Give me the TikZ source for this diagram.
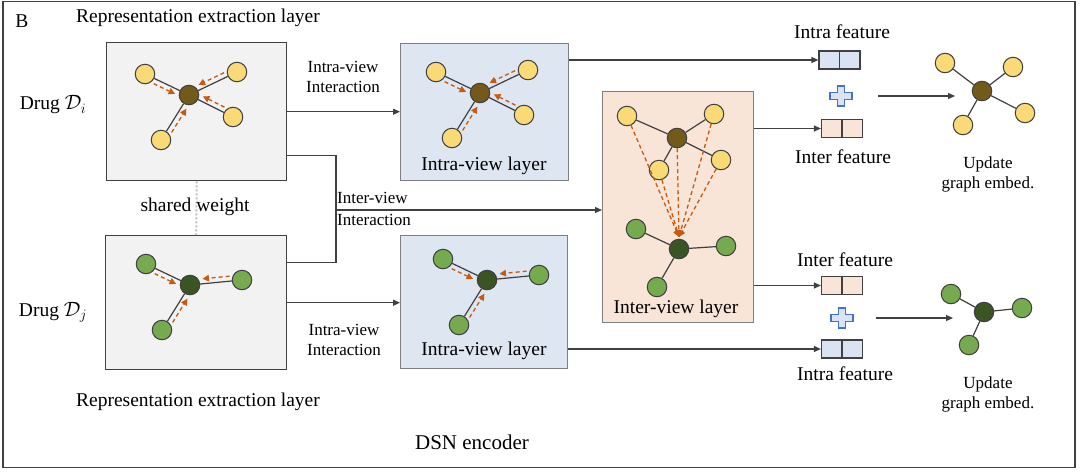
\documentclass[tikz,border=0pt]{standalone}
\usepackage{fontspec}
\setmainfont{Liberation Serif}
\usetikzlibrary{calc,arrows.meta}
\definecolor{repfill}{HTML}{F2F2F2}
\definecolor{intrafill}{HTML}{DEE6F1}
\definecolor{interfill}{HTML}{F8E5D8}
\definecolor{nodey}{HTML}{F9DA76}
\definecolor{nodeyc}{HTML}{735A1A}
\definecolor{nodeg}{HTML}{75AA4E}
\definecolor{nodegc}{HTML}{3A5424}
\definecolor{msgc}{HTML}{C55A11}
\definecolor{linec}{HTML}{404040}
\definecolor{boxc}{HTML}{7F7F7F}
\definecolor{plusb}{HTML}{4472C4}
\definecolor{plusf}{HTML}{DAE3F3}
\newcommand\fbig{\fontsize{19.5}{22}\selectfont}
\newcommand\fmid{\fontsize{17}{20}\selectfont}
\newcommand\msgarrow[2]{\draw[msg] ($(#1)!12pt!(#2)!5pt!-90:(#2)$) -- ($(#2)!13pt!(#1)!5pt!90:(#1)$);}
\begin{document}
\begin{tikzpicture}[x=1pt,y=-1pt,
  gnode/.style={circle,draw=linec,line width=1pt,minimum size=19.5pt,inner sep=0pt},
  ynode/.style={gnode,fill=nodey},
  ycen/.style={gnode,fill=nodeyc},
  grnode/.style={gnode,fill=nodeg},
  grcen/.style={gnode,fill=nodegc},
  edge/.style={draw=linec,line width=1.2pt},
  msg/.style={draw=msgc,line width=1.3pt,dash pattern=on 4pt off 3pt,-{Triangle[length=6.5pt,width=6.5pt]}},
  arr/.style={draw=linec,line width=1.2pt,-{Triangle[length=7pt,width=6pt]}},
  plain/.style={draw=linec,line width=1.2pt},
  repbox/.style={draw=linec,fill=repfill,line width=1.4pt,anchor=north west,inner sep=0pt},
  intrabox/.style={draw=boxc,fill=intrafill,line width=1.4pt,anchor=north west,inner sep=0pt},
  interbox/.style={draw=boxc,fill=interfill,line width=1.4pt,anchor=north west,inner sep=0pt},
  featintra/.style={draw=linec,fill=plusf,line width=1.2pt,minimum width=41pt,minimum height=18pt,inner sep=0pt},
  featinter/.style={draw=linec,fill=interfill,line width=1.2pt,minimum width=41pt,minimum height=18pt,inner sep=0pt},
  lbl/.style={font=\fbig,inner sep=0pt,align=center},
  slbl/.style={font=\fmid,inner sep=0pt,align=center},
  plusnode/.style={minimum size=20pt,inner sep=0pt}
]
\useasboundingbox (0,0) rectangle (1080,472);
% outer frame
\draw[draw=linec,line width=1.4pt] (3,1.5) rectangle (1075,467.5);
\node[lbl] (B) at (22,21) {B};

% representation boxes
\node[repbox,minimum width=180pt,minimum height=138pt] (ri) at (106,42) {};
\node[repbox,minimum width=181pt,minimum height=134pt] (rj) at (105,235) {};
\node[lbl] (rtop) at (198,18) {Representation extraction layer};
\node[lbl] (rbot) at (198,402) {Representation extraction layer};
\node[lbl] (di) at (53,105) {Drug $\mathcal{D}_i$};
\node[lbl] (dj) at (53,312) {Drug $\mathcal{D}_j$};
\draw[draw=gray!50,line width=2pt,dash pattern=on 2pt off 2pt] (ri.south) -- (rj.north);
\node[lbl] (sw) at (195,207) {shared weight};

% intra / inter boxes
\node[intrabox,minimum width=168pt,minimum height=137pt] (ia) at (400,43) {};
\node[intrabox,minimum width=167pt,minimum height=133pt] (ib) at (400,235) {};
\node[interbox,minimum width=151pt,minimum height=231pt] (iv) at (602,91) {};
\node[lbl] (ial) at (484,166) {Intra-view layer};
\node[lbl] (ibl) at (484,351) {Intra-view layer};
\node[lbl] (ivl) at (676,309) {Inter-view layer};

% yellow star graphs
\foreach \p/\cx/\cy in {yi/189/95, ya/480/93}{
  \node[ycen] (\p c) at (\cx,\cy) {};
  \node[ynode] (\p 1) at (\cx-44,\cy-21) {};
  \node[ynode] (\p 2) at (\cx+48,\cy-23) {};
  \node[ynode] (\p 3) at (\cx+44,\cy+22) {};
  \node[ynode] (\p 4) at (\cx-28,\cy+45) {};
  \foreach \k in {1,2,3,4}{\draw[edge] (\p c) -- (\p\k);}
  \foreach \k in {1,2,3,4}{\msgarrow{\p\k}{\p c}}
}
% green graphs
\foreach \p/\cx/\cy in {gj/190/285, gb/487/280}{
  \node[grcen] (\p c) at (\cx,\cy) {};
  \node[grnode] (\p 1) at (\cx-44,\cy-21) {};
  \node[grnode] (\p 2) at (\cx+52,\cy-5) {};
  \node[grnode] (\p 3) at (\cx-28,\cy+45) {};
  \foreach \k in {1,2,3}{\draw[edge] (\p c) -- (\p\k);}
  \foreach \k in {1,2,3}{\msgarrow{\p\k}{\p c}}
}

% inter-view graph
\node[ycen] (vc) at (677,138) {};
\node[ynode] (v1) at (627,116) {};
\node[ynode] (v2) at (714,114) {};
\node[ynode] (v3) at (721,160) {};
\node[ynode] (v4) at (659,170) {};
\foreach \k in {1,2,3,4}{\draw[edge] (vc) -- (v\k);}
\node[grcen] (wc) at (679,249) {};
\node[grnode] (w1) at (636,229) {};
\node[grnode] (w2) at (726,246) {};
\node[grnode] (w3) at (657,287) {};
\foreach \k in {1,2,3}{\draw[edge] (wc) -- (w\k);}
\coordinate (conv) at (679,237);
\foreach \k in {1,2,3,4,c}{\draw[msg] (v\k) -- (conv);}

% connectors between stages
\draw[arr] (ri.east) -- (ia.west |- ri.east);
\draw[arr] (rj.east) -- (ib.west |- rj.east);
\coordinate (jn) at (336,210);
\draw[plain] ([yshift=-44pt]ri.east) -| (jn) |- ([yshift=40pt]rj.east);
\draw[arr] (jn) -- (iv.west |- jn);
\node[slbl] (l1) at (343,77) {Intra-view\\Interaction};
\node[slbl] (l2) at (344,340) {Intra-view\\Interaction};
\node[slbl,anchor=west] (l3) at (337,198) {Inter-view};
\node[slbl,anchor=west] (l4) at (337,220) {Interaction};

% features
\node[featintra] (f1) at (839.5,60) {};
\node[featinter] (f2) at (842,128.5) {};
\node[featinter] (f3) at (842,285.5) {};
\node[featintra] (f4) at (842,349) {};
\foreach \f in {f1,f2,f3,f4}{\draw[plain] (\f.north) -- (\f.south);}
\node[lbl] (f1l) at (842,32) {Intra feature};
\node[lbl] (f2l) at (843,157) {Inter feature};
\node[lbl] (f3l) at (845,260) {Inter feature};
\node[lbl] (f4l) at (845,374) {Intra feature};
\draw[arr] (ia.east |- f1.west) -- (f1.west);
\draw[arr] (iv.east |- f2.west) -- (f2.west);
\draw[arr] (iv.east |- f3.west) -- (f3.west);
\draw[arr] (ib.east |- f4.west) -- (f4.west);

% plus signs
\node[plusnode] (p1) at (841,96) {};
\node[plusnode] (p2) at (842,318) {};
\foreach \p in {p1,p2}{
  \draw[draw=plusb,fill=plusf,line width=1.1pt,shift={(\p)}]
    (-3.5,-10) -- (3.5,-10) -- (3.5,-3.5) -- (11,-3.5) -- (11,3.5) -- (3.5,3.5)
    -- (3.5,10) -- (-3.5,10) -- (-3.5,3.5) -- (-11,3.5) -- (-11,-3.5) -- (-3.5,-3.5) -- cycle;
}
\coordinate (e1) at (955,96);
\coordinate (e2) at (953,318);
\draw[arr] ([xshift=37pt]p1.center) -- (e1);
\draw[arr] ([xshift=34pt]p2.center) -- (e2);

% updated graphs
\node[ycen] (uc) at (982,91) {};
\node[ynode] (u1) at (945,63) {};
\node[ynode] (u2) at (1013,67) {};
\node[ynode] (u3) at (1025,113) {};
\node[ynode] (u4) at (963,125) {};
\foreach \k in {1,2,3,4}{\draw[edge] (uc) -- (u\k);}
\node[grcen] (tc) at (984,312) {};
\node[grnode] (t1) at (951,294) {};
\node[grnode] (t2) at (1022,308) {};
\node[grnode] (t3) at (969,345) {};
\foreach \k in {1,2,3}{\draw[edge] (tc) -- (t\k);}
\node[slbl] (ul) at (988,174) {Update\\graph embed.};
\node[slbl] (tl) at (988,394) {Update\\graph embed.};

\node[font=\fontsize{21}{25}\selectfont,inner sep=0pt] (dsn) at (472,442) {DSN encoder};
\end{tikzpicture}
\end{document}
